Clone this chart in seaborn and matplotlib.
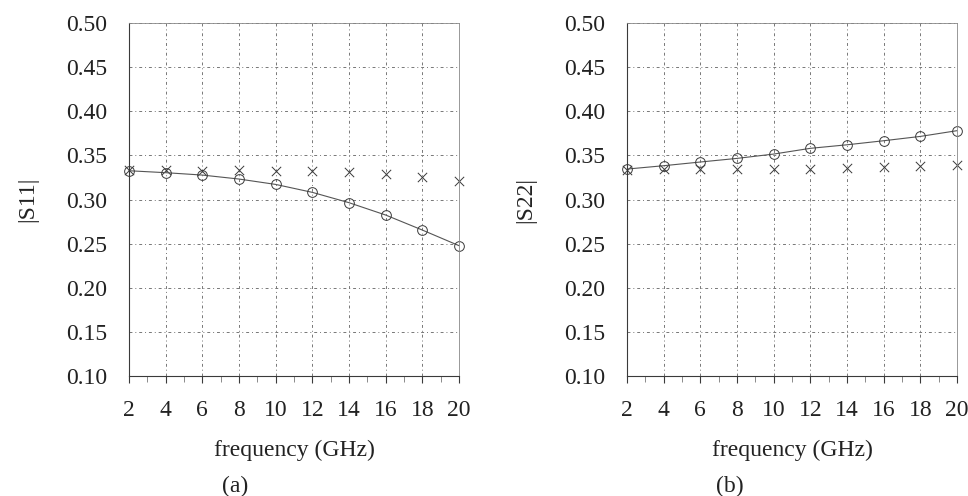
import numpy as np
import pandas as pd
import seaborn as sns
import matplotlib.pyplot as plt
from matplotlib.ticker import MultipleLocator

# frequency points (GHz)
freq = [2, 4, 6, 8, 10, 12, 14, 16, 18, 20]

# |S11|: circles with line, crosses
s11_circ = [0.3326, 0.3304, 0.3277, 0.3232, 0.3171, 0.3081, 0.2964, 0.2824, 0.2654, 0.2477]
s11_cross = [0.3330, 0.3330, 0.3326, 0.3330, 0.3326, 0.3320, 0.3310, 0.3290, 0.3258, 0.3213]

# |S22|: circles with line, crosses
s22_circ = [0.3345, 0.3383, 0.3425, 0.3466, 0.3515, 0.3580, 0.3620, 0.3666, 0.3715, 0.3780]
s22_cross = [0.3334, 0.3345, 0.3345, 0.3345, 0.3345, 0.3350, 0.3357, 0.3365, 0.3383, 0.3394]

yticks = [0.10, 0.15, 0.20, 0.25, 0.30, 0.35, 0.40, 0.45, 0.50]

sns.set_style("white")
plt.rcParams['font.family'] = ['Liberation Serif', 'DejaVu Serif']

fig = plt.figure(figsize=(9.68, 4.96), dpi=100)
ax1 = fig.add_axes([0.1333, 0.2419, 0.3409, 0.7117])
ax2 = fig.add_axes([0.6477, 0.2419, 0.3409, 0.7117])

ink = '#3a3a3a'
fs = 17

panels = [
    (ax1, s11_circ, s11_cross, '|S11|', '(a)', 0.2428),
    (ax2, s22_circ, s22_cross, '|S22|', '(b)', 0.7541),
]

for ax, circ, cross, ylab, tag, tx in panels:
    df = pd.DataFrame({'freq': freq, 'circ': circ, 'cross': cross})
    sns.lineplot(data=df, x='freq', y='circ', ax=ax, color='#555555', linewidth=0.8,
                 marker='o', markersize=7, markerfacecolor='none',
                 markeredgecolor=ink, markeredgewidth=0.7, clip_on=False)
    sns.scatterplot(data=df, x='freq', y='cross', ax=ax, marker='x', s=45,
                    color=ink, linewidth=0.7, clip_on=False)

    ax.set_xlim(2, 20)
    ax.set_ylim(0.10, 0.50)
    ax.set_xticks(freq)
    ax.xaxis.set_minor_locator(MultipleLocator(1))
    ax.set_yticks(yticks)
    ax.set_yticklabels([f'{v:.2f}' for v in yticks])
    ax.grid(True, which='major', color='#777777', linestyle=(0, (3, 3, 1, 3)),
            linewidth=0.7)
    ax.tick_params(axis='y', which='major', direction='out', length=13, width=0.8,
                   color=ink, pad=3, labelsize=fs, labelcolor='#222222')
    ax.tick_params(axis='x', which='major', direction='out', length=5, width=0.8,
                   color=ink, pad=12, labelsize=fs, labelcolor='#222222',
                   bottom=True)
    ax.tick_params(axis='x', which='minor', direction='out', length=4, width=0.6,
                   color='#777777', bottom=True)
    for side in ['left', 'bottom']:
        ax.spines[side].set_color(ink)
        ax.spines[side].set_linewidth(0.8)
    for side in ['top', 'right']:
        ax.spines[side].set_color('#888888')
        ax.spines[side].set_linewidth(0.6)

    ax.set_xlabel('frequency (GHz)', fontsize=fs, labelpad=14, color='#222222')
    ax.set_ylabel(ylab, fontsize=fs, labelpad=20, color='#222222')
    fig.text(tx, 0.02, tag, fontsize=fs, ha='center', va='center', color='#222222')

fig.savefig('out.png', dpi=100)
